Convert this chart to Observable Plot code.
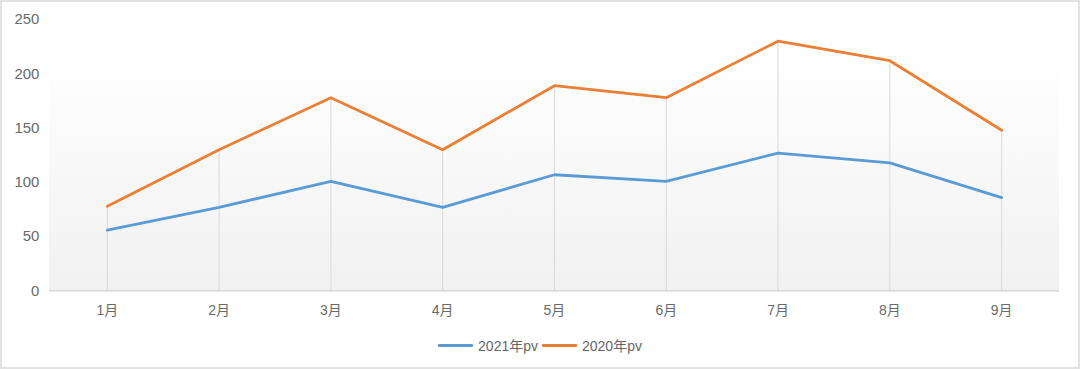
<!DOCTYPE html>
<html>
<head>
<meta charset="utf-8">
<script src="https://cdn.jsdelivr.net/npm/d3@7"></script>
<script src="https://cdn.jsdelivr.net/npm/@observablehq/plot@0.6"></script>
<style>
  html, body { margin: 0; padding: 0; background: #fff; }
  #wrap { position: relative; width: 1080px; height: 369px; box-sizing: border-box; border: 2px solid #e2e2e2; overflow: hidden; font-family: "Helvetica Neue", "Liberation Sans", "Noto Sans CJK SC", sans-serif; }
  #chart { position: absolute; left: -2px; top: -2px; }
  #legend { position: absolute; left: -2px; top: 333px; width: 1080px; display: flex; justify-content: center; align-items: center; font-size: 14px; color: #666; }
  .item { display: flex; align-items: center; margin: 0 2px; }
  .swatch { width: 35px; height: 3px; border-radius: 1px; margin-right: 5px; }
</style>
</head>
<body>
<div id="wrap">
  <div id="chart"></div>
  <div id="legend"></div>
</div>
<script>
const months = ["1月","2月","3月","4月","5月","6月","7月","8月","9月"];
const pv2021 = [56, 77, 101, 77, 107, 101, 127, 118, 86];
const pv2020 = [78, 130, 178, 130, 189, 178, 230, 212, 148];
const seriesNames = ["2021年pv", "2020年pv"];
const seriesColors = ["#5b9bd5", "#ea7f35"];
const yTicks = [0, 50, 100, 150, 200, 250];

const rows = [];
months.forEach((m, i) => {
  rows.push({month: m, value: pv2021[i], series: seriesNames[0]});
  rows.push({month: m, value: pv2020[i], series: seriesNames[1]});
});
const drops = months.map((m, i) => ({month: m, top: Math.max(pv2021[i], pv2020[i])}));

const gradientMark = (index, scales, values, dimensions) => {
  const {width, height, marginLeft, marginRight, marginTop, marginBottom} = dimensions;
  const g = d3.create("svg:g");
  const defs = g.append("defs");
  const lg = defs.append("linearGradient").attr("id", "bggrad").attr("x1", 0).attr("y1", 0).attr("x2", 0).attr("y2", 1);
  lg.append("stop").attr("offset", "0%").attr("stop-color", "#ffffff");
  lg.append("stop").attr("offset", "12%").attr("stop-color", "#ffffff");
  lg.append("stop").attr("offset", "100%").attr("stop-color", "#f1f1f1");
  g.append("rect")
    .attr("x", marginLeft).attr("y", marginTop)
    .attr("width", width - marginLeft - marginRight)
    .attr("height", height - marginTop - marginBottom)
    .attr("fill", "url(#bggrad)");
  return g.node();
};

const chart = Plot.plot({
  width: 1080,
  height: 325,
  marginLeft: 49,
  marginRight: 19,
  marginTop: 19,
  marginBottom: 34,
  style: {fontSize: "14px", color: "#666", background: "transparent", fontFamily: "'Helvetica Neue', 'Liberation Sans', 'Noto Sans CJK SC', sans-serif"},
  x: {type: "point", domain: months, padding: 0.5, label: null},
  y: {domain: [0, 250], label: null},
  color: {domain: seriesNames, range: seriesColors},
  marks: [
    gradientMark,
    Plot.ruleX(drops, {x: "month", y1: 0, y2: "top", stroke: "#d9d9d9", strokeWidth: 1}),
    Plot.ruleY([0], {stroke: "#cfcfcf", strokeWidth: 1.2}),
    Plot.axisY({ticks: yTicks, tickSize: 0, tickPadding: 10, fontSize: 15, fill: "#6a6a6a", label: null}),
    Plot.axisX({tickSize: 0, tickPadding: 14, fontSize: 14, fill: "#6a6a6a", label: null}),
    Plot.line(rows, {x: "month", y: "value", z: "series", stroke: "series", strokeWidth: 2.8, curve: "linear"})
  ]
});
document.getElementById("chart").appendChild(chart);

const legend = document.getElementById("legend");
seriesNames.forEach((name, i) => {
  const item = document.createElement("div");
  item.className = "item";
  const sw = document.createElement("div");
  sw.className = "swatch";
  sw.style.background = seriesColors[i];
  const label = document.createElement("span");
  label.textContent = name;
  item.appendChild(sw);
  item.appendChild(label);
  legend.appendChild(item);
});
</script>
</body>
</html>
